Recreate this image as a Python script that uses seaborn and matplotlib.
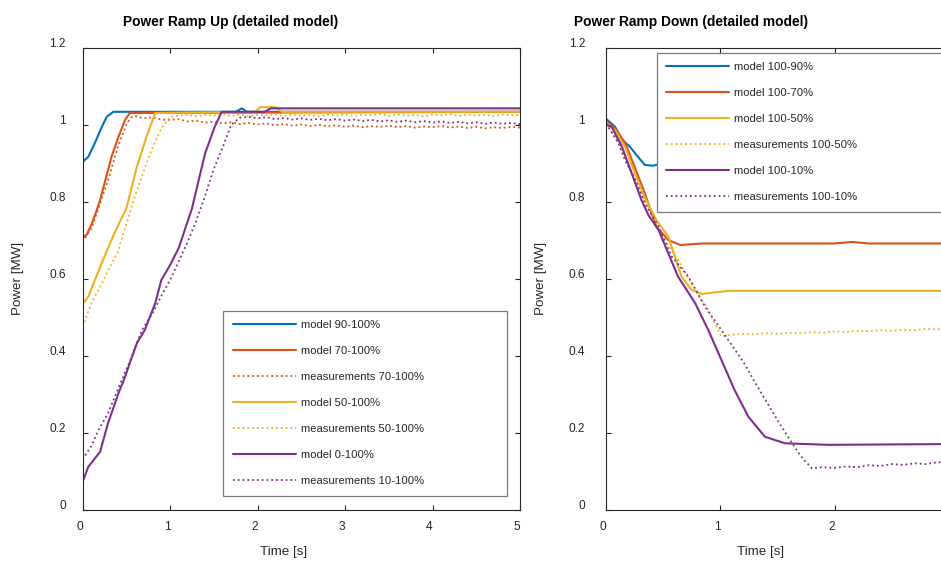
import matplotlib
matplotlib.use("Agg")
import matplotlib.pyplot as plt
import matplotlib.transforms as mtransforms
import seaborn as sns

# ---------------------------------------------
#  data
# ---------------------------------------------
# ramp up (left panel)
t_up_m90 = [0, 0.065, 0.14, 0.22, 0.275, 0.35, 1.75, 1.82, 1.88, 5.0]
p_up_m90 = [0.903, 0.916, 0.952, 0.994, 1.02, 1.033, 1.033, 1.042, 1.033, 1.033]

t_up_m70 = [0, 0.05, 0.1, 0.15, 0.2, 0.33, 0.41, 0.485, 0.54, 5.0]
p_up_m70 = [0.705, 0.715, 0.74, 0.77, 0.804, 0.916, 0.968, 1.012, 1.03, 1.033]

t_up_m50 = [0, 0.065, 0.14, 0.28, 0.38, 0.5, 0.62, 0.73, 0.83, 1.97, 2.03, 2.2, 2.28, 5.0]
p_up_m50 = [0.534, 0.553, 0.596, 0.674, 0.726, 0.782, 0.89, 0.968, 1.03, 1.033,
            1.045, 1.045, 1.033, 1.033]

t_up_m0 = [0, 0.065, 0.2, 0.29, 0.41, 0.485, 0.62, 0.71, 0.83, 0.9, 1.0, 1.1,
           1.25, 1.4, 1.51, 1.59, 2.08, 2.15, 5.0]
p_up_m0 = [0.072, 0.111, 0.15, 0.224, 0.302, 0.345, 0.432, 0.466, 0.536, 0.596,
           0.635, 0.68, 0.782, 0.925, 0.994, 1.033, 1.033, 1.042, 1.042]

# measurement tails share one sampling grid (1.1 .. 5.0 s)
t_up_tail = [1.1, 1.2, 1.3, 1.4, 1.5, 1.6, 1.7, 1.8, 1.9,
             2.0, 2.1, 2.2, 2.3, 2.4, 2.5, 2.6, 2.7, 2.8, 2.9,
             3.0, 3.1, 3.2, 3.3, 3.4, 3.5, 3.6, 3.7, 3.8, 3.9,
             4.0, 4.1, 4.2, 4.3, 4.4, 4.5, 4.6, 4.7, 4.8, 4.9, 5.0]

t_up_x70 = [0, 0.1, 0.2, 0.3, 0.4, 0.5, 0.55, 0.6, 0.7, 0.8, 0.9, 1.0]
p_up_x70 = [0.695, 0.73, 0.795, 0.862, 0.94, 1.0, 1.018, 1.022, 1.016, 1.019, 1.013, 1.012,
            1.014, 1.008, 1.01, 1.005, 1.007, 1.003, 1.006, 1.001, 1.004,
            1.0, 1.003, 0.998, 1.001, 0.997, 1.0, 0.996, 0.999, 0.995, 0.998,
            0.994, 0.997, 0.993, 0.996, 0.994, 0.997, 0.993, 0.996, 0.992, 0.995,
            0.993, 0.996, 0.992, 0.995, 0.991, 0.994, 0.99, 0.993, 0.991, 0.994, 0.992]

t_up_x50 = [0, 0.1, 0.24, 0.3, 0.4, 0.5, 0.6, 0.7, 0.8, 0.9, 1.0]
p_up_x50 = [0.475, 0.536, 0.596, 0.625, 0.668, 0.742, 0.815, 0.88, 0.94, 0.99, 1.02,
            1.022, 1.026, 1.021, 1.025, 1.023, 1.027, 1.022, 1.026, 1.021,
            1.025, 1.024, 1.027, 1.022, 1.026, 1.023, 1.025, 1.021, 1.026, 1.023,
            1.027, 1.022, 1.025, 1.024, 1.027, 1.022, 1.026, 1.023, 1.025, 1.021,
            1.026, 1.024, 1.027, 1.022, 1.026, 1.023, 1.025, 1.022, 1.026, 1.024, 1.025]

t_up_x10 = [0, 0.1, 0.18, 0.29, 0.43, 0.56, 0.675, 0.8, 0.9, 1.0]
p_up_x10 = [0.13, 0.165, 0.206, 0.25, 0.327, 0.396, 0.465, 0.51, 0.555, 0.596,
            0.645, 0.695, 0.75, 0.815, 0.885, 0.94, 1.0, 1.018, 1.02,
            1.016, 1.019, 1.014, 1.017, 1.013, 1.016, 1.012, 1.015, 1.011, 1.014,
            1.01, 1.013, 1.009, 1.012, 1.008, 1.011, 1.007, 1.01, 1.006, 1.009,
            1.005, 1.008, 1.004, 1.007, 1.003, 1.006, 1.002, 1.005, 1.002, 1.004, 1.001]

# ramp down (right panel)
t_dn_m90 = [0, 0.08, 0.14, 0.21, 0.28, 0.34, 0.41, 0.5, 0.6, 3.0]
p_dn_m90 = [1.015, 0.994, 0.96, 0.942, 0.916, 0.895, 0.893, 0.9, 0.905, 0.905]

t_dn_m70 = [0, 0.08, 0.17, 0.25, 0.34, 0.4, 0.44, 0.545, 0.65, 0.84, 2.0, 2.15, 2.3, 3.0]
p_dn_m70 = [1.01, 0.99, 0.951, 0.89, 0.821, 0.769, 0.735, 0.7, 0.687, 0.691,
            0.691, 0.695, 0.691, 0.691]

t_dn_m50 = [0, 0.08, 0.17, 0.25, 0.34, 0.44, 0.545, 0.66, 0.75, 0.84, 1.07, 3.0]
p_dn_m50 = [1.005, 0.985, 0.94, 0.875, 0.81, 0.752, 0.709, 0.605, 0.57, 0.56, 0.568, 0.568]

t_dn_m10 = [0, 0.05, 0.14, 0.225, 0.31, 0.37, 0.46, 0.63, 0.78, 0.895, 1.01, 1.125,
            1.245, 1.39, 1.565, 1.945, 3.0]
p_dn_m10 = [1.0, 0.994, 0.942, 0.873, 0.804, 0.765, 0.726, 0.605, 0.536, 0.466, 0.388,
            0.31, 0.241, 0.189, 0.172, 0.168, 0.17]

t_dn_tail = [1.1, 1.2, 1.3, 1.4, 1.5, 1.6, 1.7, 1.8, 1.9,
             2.0, 2.1, 2.2, 2.3, 2.4, 2.5, 2.6, 2.7, 2.8, 2.9, 3.0]

t_dn_x50 = [0, 0.08, 0.17, 0.25, 0.34, 0.46, 0.63, 0.78, 0.895, 1.01, 1.07]
p_dn_x50 = [1.0, 0.97, 0.91, 0.86, 0.8, 0.726, 0.648, 0.57, 0.518, 0.449, 0.453,
            0.454, 0.456, 0.455, 0.458, 0.456, 0.459, 0.458, 0.461, 0.459,
            0.463, 0.461, 0.464, 0.463, 0.466, 0.464, 0.467, 0.466, 0.469, 0.468, 0.471]

t_dn_x10 = [0, 0.11, 0.165, 0.25, 0.35, 0.46, 0.575, 0.72, 0.866, 1.01]
p_dn_x10 = [1.003, 0.951, 0.908, 0.86, 0.79, 0.735, 0.657, 0.605, 0.527, 0.466,
            0.427, 0.384, 0.332, 0.282, 0.232, 0.185, 0.14, 0.107, 0.11,
            0.108, 0.112, 0.11, 0.115, 0.113, 0.118, 0.116, 0.12, 0.118, 0.123, 0.121]

up_labels = ["model 90-100%", "model 70-100%", "measurements 70-100%",
             "model 50-100%", "measurements 50-100%", "model 0-100%",
             "measurements 10-100%"]
down_labels = ["model 100-90%", "model 100-70%", "model 100-50%",
               "measurements 100-50%", "model 100-10%", "measurements 100-10%"]

# ---------------------------------------------
#  style (MATLAB-ish look)
# ---------------------------------------------
BLUE, ORANGE, YELLOW, PURPLE = "#0072BD", "#D95319", "#EDB120", "#7E2F8E"
AX_COL = "#262626"

sns.set_theme(style="white")
plt.rcParams["font.family"] = ["Liberation Sans", "DejaVu Sans"]
plt.rcParams["axes.edgecolor"] = AX_COL
plt.rcParams["axes.linewidth"] = 0.8

fig = plt.figure(figsize=(9.41, 5.63), dpi=100)
ax1 = fig.add_axes([0.0878, 0.095, 0.4648, 0.8206])
ax2 = fig.add_axes([0.644, 0.095, 0.3645, 0.8206])

LW_MODEL, LW_MEAS = 1.5, 1.3


def draw(ax, t, p, color, label, meas=False):
    sns.lineplot(x=t, y=p, ax=ax, color=color, label=label,
                 linestyle=":" if meas else "-",
                 linewidth=LW_MEAS if meas else LW_MODEL,
                 estimator=None, sort=False, legend=False)


def with_tail(t_head, t_tail):
    return list(t_head) + list(t_tail)


# left panel
draw(ax1, t_up_m90, p_up_m90, BLUE, up_labels[0])
draw(ax1, t_up_m70, p_up_m70, ORANGE, up_labels[1])
draw(ax1, with_tail(t_up_x70, t_up_tail), p_up_x70, ORANGE, up_labels[2], meas=True)
draw(ax1, t_up_m50, p_up_m50, YELLOW, up_labels[3])
draw(ax1, with_tail(t_up_x50, t_up_tail), p_up_x50, YELLOW, up_labels[4], meas=True)
draw(ax1, t_up_m0, p_up_m0, PURPLE, up_labels[5])
draw(ax1, with_tail(t_up_x10, t_up_tail), p_up_x10, PURPLE, up_labels[6], meas=True)

# right panel
draw(ax2, t_dn_m90, p_dn_m90, BLUE, down_labels[0])
draw(ax2, t_dn_m70, p_dn_m70, ORANGE, down_labels[1])
draw(ax2, t_dn_m50, p_dn_m50, YELLOW, down_labels[2])
draw(ax2, with_tail(t_dn_x50, t_dn_tail), p_dn_x50, YELLOW, down_labels[3], meas=True)
draw(ax2, t_dn_m10, p_dn_m10, PURPLE, down_labels[4])
draw(ax2, with_tail(t_dn_x10, t_dn_tail), p_dn_x10, PURPLE, down_labels[5], meas=True)

# axes decoration
panels = [
    (ax1, (0, 5), [0, 1, 2, 3, 4, 5], "Power Ramp Up (detailed model)", 0.338, 0.46, -0.134, 12),
    (ax2, (0, 3), [0, 1, 2], "Power Ramp Down (detailed model)", 0.248, 0.452, -0.172, 15),
]
for ax, xlim, xt, title, tx, xlx, ylx, ypad in panels:
    ax.set_xlim(*xlim)
    ax.set_ylim(0, 1.2)
    ax.set_xticks(xt)
    ax.set_xticklabels([str(v) for v in xt])
    ax.set_yticks([0, 0.2, 0.4, 0.6, 0.8, 1.0, 1.2])
    ax.set_yticklabels(["0", "0.2", "0.4", "0.6", "0.8", "1", "1.2"])
    ax.tick_params(direction="in", length=3.5, width=0.8, colors=AX_COL,
                   labelsize=8.6, top=True, right=True, bottom=True, left=True)
    ax.tick_params(axis="y", pad=ypad)
    ax.tick_params(axis="x", pad=8)
    for sp in ax.spines.values():
        sp.set_color(AX_COL)
        sp.set_linewidth(0.8)
    ax.set_facecolor("white")

    ax.text(tx, 1.055, title, transform=ax.transAxes, ha="center", va="center",
            fontsize=9.9, fontweight="bold", color="black")
    ax.set_xlabel("Time [s]", fontsize=9.6, color=AX_COL)
    ax.set_ylabel("Power [MW]", fontsize=9.6, color=AX_COL)
    ax.xaxis.set_label_coords(xlx, -0.079)
    ax.yaxis.set_label_coords(ylx, 0.5)

    # MATLAB export puts tick labels a few pixels off their ticks
    up = mtransforms.ScaledTranslation(0, 0.05, fig.dpi_scale_trans)
    left = mtransforms.ScaledTranslation(-0.03, 0, fig.dpi_scale_trans)
    for lab in ax.get_yticklabels():
        lab.set_transform(lab.get_transform() + up)
    for lab in ax.get_xticklabels():
        lab.set_transform(lab.get_transform() + left)

# legends
leg_kw = dict(fontsize=8.1, frameon=True, fancybox=False, framealpha=1,
              edgecolor="#7a7a7a", handlelength=5.6, handletextpad=0.45,
              labelspacing=1.42, borderpad=0.85, borderaxespad=0, mode="expand",
              labelcolor=AX_COL)

h1, l1 = ax1.get_legend_handles_labels()
lg1 = ax1.legend(h1, l1, loc="lower left",
                 bbox_to_anchor=(0.322, 0.030, 0.649, 0.40), **leg_kw)
lg1.get_frame().set_linewidth(0.9)

h2, l2 = ax2.get_legend_handles_labels()
lg2 = ax2.legend(h2, l2, loc="upper left",
                 bbox_to_anchor=(0.148, 0.45, 1.0, 0.5387), **leg_kw)
lg2.get_frame().set_linewidth(0.9)

fig.savefig("out.png", dpi=100, facecolor="white")
